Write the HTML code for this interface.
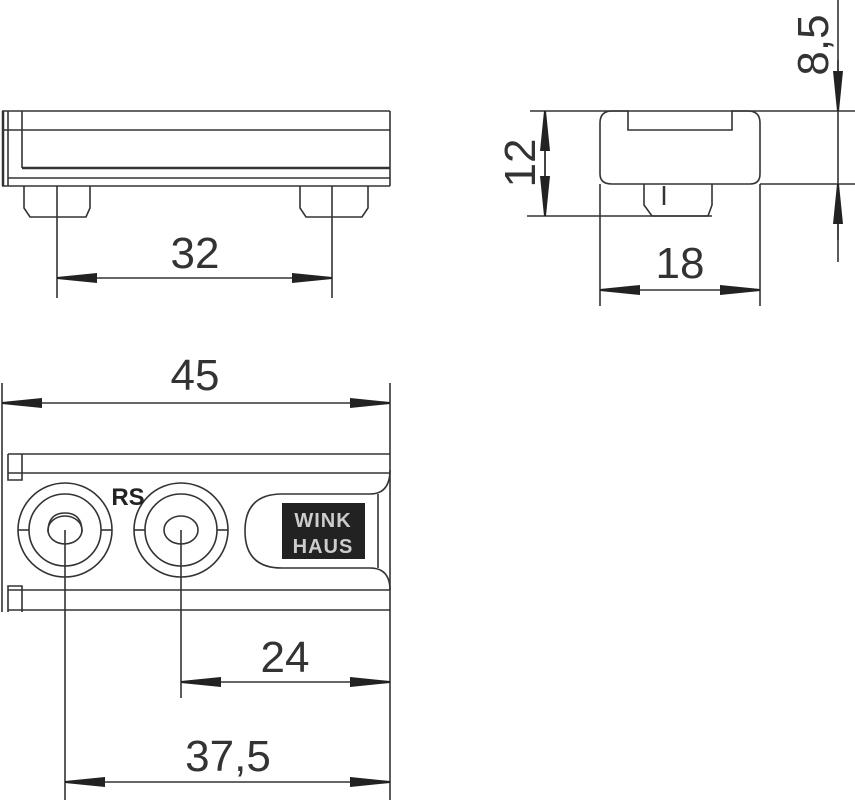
<!DOCTYPE html>
<html><head><meta charset="utf-8"><style>
html,body{margin:0;padding:0;background:#fff;}
svg{display:block;}
text{font-family:"Liberation Sans",sans-serif;fill:#333;}
</style></head><body>
<svg width="855" height="800" viewBox="0 0 855 800" xmlns="http://www.w3.org/2000/svg">
<defs>
<marker id="a" viewBox="0 0 40 10" refX="40" refY="5" markerWidth="40" markerHeight="10" markerUnits="userSpaceOnUse" orient="auto-start-reverse">
<path d="M0,0 L40,4 L40,6 L0,10 Z" fill="#222"/>
</marker>
</defs>
<g stroke="#333" stroke-width="1.6" fill="none">
<!-- TOP LEFT VIEW -->
<line x1="2" y1="111" x2="390" y2="111"/>
<line x1="2" y1="130" x2="390" y2="130"/>
<line x1="22" y1="168" x2="390" y2="168" stroke-width="2.6"/>
<line x1="8" y1="178" x2="390" y2="178"/>
<line x1="2" y1="186" x2="390" y2="186"/>
<line x1="390" y1="111" x2="390" y2="186"/>
<line x1="3" y1="111" x2="3" y2="186" stroke-width="2.5"/>
<line x1="8" y1="111" x2="8" y2="186"/>
<line x1="22" y1="111" x2="22" y2="168"/>
<path d="M24,186 V208 L30,217 H86 L90,208 V186"/>
<path d="M300,186 V208 L306,217 H362 L368,208 V186"/>
<line x1="57" y1="186" x2="57" y2="298"/>
<line x1="332" y1="186" x2="332" y2="298"/>
<line x1="57" y1="278" x2="332" y2="278" marker-start="url(#a)" marker-end="url(#a)"/>
<!-- RIGHT VIEW -->
<path d="M612,111 H628 V130 H732 V111 H748 Q760,111 760,123 V174 Q760,184 750,184 H612 Q600,184 600,174 V123 Q600,111 612,111 Z"/>
<path d="M644,184 V205 L652,216 H708 L712,205 V184"/>
<line x1="664" y1="186" x2="664" y2="205" stroke-width="2.5"/>
<line x1="530" y1="111" x2="855" y2="111"/>
<line x1="760" y1="184" x2="855" y2="184"/>
<line x1="527" y1="216" x2="712" y2="216"/>
<line x1="545" y1="111" x2="545" y2="216"/>
<line x1="545" y1="163" x2="545" y2="111" marker-end="url(#a)"/>
<line x1="545" y1="163" x2="545" y2="216" marker-end="url(#a)"/>
<line x1="600" y1="184" x2="600" y2="306"/>
<line x1="760" y1="184" x2="760" y2="306"/>
<line x1="600" y1="290" x2="760" y2="290" marker-start="url(#a)" marker-end="url(#a)"/>
<line x1="838" y1="0" x2="838" y2="262"/>
<line x1="838" y1="60" x2="838" y2="111" marker-end="url(#a)"/>
<line x1="838" y1="240" x2="838" y2="184" marker-end="url(#a)"/>
<!-- BOTTOM VIEW -->
<line x1="2" y1="383" x2="2" y2="612"/>
<line x1="390" y1="383" x2="390" y2="800"/>
<line x1="2" y1="403" x2="390" y2="403" marker-start="url(#a)" marker-end="url(#a)"/>
<path d="M8,454 H390"/>
<path d="M8,473 H390"/>
<path d="M8,454 L8,480 H22 V454"/>
<path d="M8,612 L8,586 H22 V612"/>
<path d="M8,590 H390"/>
<path d="M8,610 H390"/>
<path d="M390,470 Q390,494 370,494 H282 Q245,494 245,531 Q245,568 282,568 H370 Q390,568 390,590"/>
<line x1="378" y1="494" x2="378" y2="568"/>
<circle cx="65" cy="530" r="47"/>
<circle cx="65" cy="530" r="36"/>
<path d="M48,532 Q48,513 65,513 Q82,513 82,532"/>
<ellipse cx="65" cy="530" rx="17" ry="14"/>
<line x1="18" y1="530" x2="29" y2="530"/>
<line x1="101" y1="530" x2="112" y2="530"/>
<circle cx="181" cy="530" r="47"/>
<circle cx="181" cy="530" r="36"/>
<ellipse cx="181" cy="530" rx="17" ry="14"/>
<line x1="134" y1="530" x2="145" y2="530"/>
<line x1="217" y1="530" x2="228" y2="530"/>
<line x1="65" y1="530" x2="65" y2="800"/>
<line x1="181" y1="530" x2="181" y2="698"/>
<line x1="181" y1="682" x2="390" y2="682" marker-start="url(#a)" marker-end="url(#a)"/>
<line x1="65" y1="782" x2="390" y2="782" marker-start="url(#a)" marker-end="url(#a)"/>
</g>
<rect x="282" y="503" width="83" height="56" fill="#222"/>
<text x="323" y="527" font-size="20" text-anchor="middle" style="fill:#ccc" font-weight="bold" letter-spacing="1">WINK</text>
<text x="323" y="553" font-size="20" text-anchor="middle" style="fill:#ccc" font-weight="bold" letter-spacing="1">HAUS</text>
<text x="128" y="505" font-size="24" font-weight="bold" text-anchor="middle" style="fill:#222">RS</text>
<text x="195" y="268" font-size="44" text-anchor="middle">32</text>
<text x="680" y="278" font-size="44" text-anchor="middle">18</text>
<text x="195" y="390" font-size="44" text-anchor="middle">45</text>
<text x="285" y="672" font-size="44" text-anchor="middle">24</text>
<text x="228" y="771" font-size="44" text-anchor="middle">37,5</text>
<text transform="translate(535,163) rotate(-90)" font-size="44" text-anchor="middle">12</text>
<text transform="translate(828,45) rotate(-90)" font-size="44" text-anchor="middle">8,5</text>
</svg>
</body></html>
